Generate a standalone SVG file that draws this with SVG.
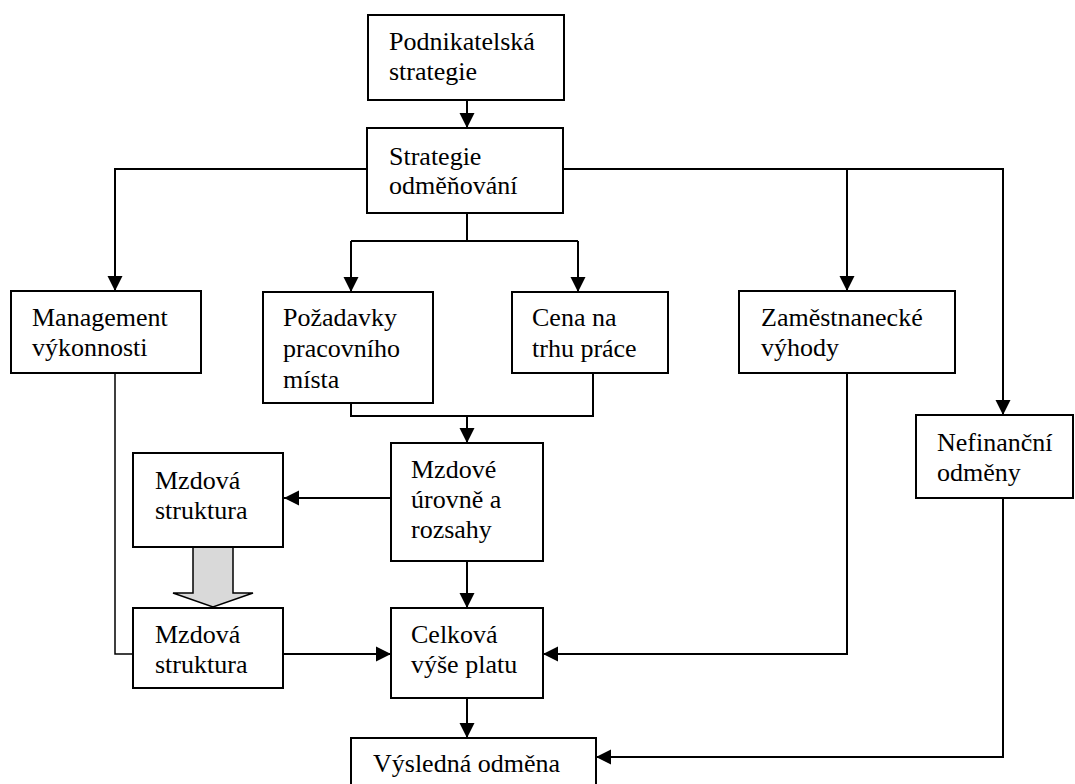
<svg xmlns="http://www.w3.org/2000/svg" width="1075" height="784" viewBox="0 0 1075 784">
<defs>
<marker id="ah" markerUnits="userSpaceOnUse" markerWidth="17" markerHeight="17" refX="15" refY="8" orient="auto">
<path d="M0,0.5 L15,8 L0,15.5 z" fill="#000"/>
</marker>
<style>
.box{fill:#fff;stroke:#000;stroke-width:2}
text{font-family:'Liberation Serif','DejaVu Serif',serif;font-size:26px;fill:#000}
.c{fill:none;stroke:#000;stroke-width:2}
.ca{fill:none;stroke:#000;stroke-width:2;marker-end:url(#ah)}
.thin{fill:none;stroke:#000;stroke-width:1.5}
</style>
</defs>
<rect width="1075" height="784" fill="#fff"/>
<g id="connectors">
<path class="ca" d="M467,86 V128"/>
<path class="ca" d="M367,169 H115 V291"/>
<path class="ca" d="M563,169 H1003 V415"/>
<path class="ca" d="M847,169 V291"/>
<path class="c" d="M467,213 V241"/>
<path class="c" d="M351,241 H578"/>
<path class="ca" d="M351,241 V292"/>
<path class="ca" d="M578,241 V292"/>
<path class="c" d="M351,403 V416 H593 V373"/>
<path class="ca" d="M467,416 V443"/>
<path class="ca" d="M391,498 H284"/>
<path class="ca" d="M467,561 V608"/>
<path class="thin" d="M115,373 V654 H133"/>
<path class="ca" d="M283,654 H391"/>
<path class="ca" d="M847,373 V654 H543"/>
<path class="ca" d="M467,698 V738"/>
<path class="ca" d="M1003,498 V757 H596"/>
<polygon points="193,547 233,547 233,593 253,593 213,607 173,593 193,593" fill="#d9d9d9" stroke="#000" stroke-width="1.5"/>
</g>
<g id="n-podnikatelska">
<rect class="box" x="368" y="15" width="196" height="85"/>
<text font-family="Liberation Serif, serif" x="389" y="50">Podnikatelská</text>
<text font-family="Liberation Serif, serif" x="389" y="80">strategie</text>
</g>
<g id="n-strategie">
<rect class="box" x="367" y="128" width="196" height="85"/>
<text x="389" y="165">Strategie</text>
<text x="389" y="194">odměňování</text>
</g>
<g id="n-management">
<rect class="box" x="11" y="291" width="190" height="82"/>
<text x="32" y="326">Management</text>
<text x="32" y="356">výkonnosti</text>
</g>
<g id="n-pozadavky">
<rect class="box" x="263" y="292" width="170" height="111"/>
<text x="283" y="326">Požadavky</text>
<text x="283" y="357">pracovního</text>
<text x="283" y="388">místa</text>
</g>
<g id="n-cena">
<rect class="box" x="512" y="292" width="156" height="81"/>
<text x="532" y="326">Cena na</text>
<text x="532" y="357">trhu práce</text>
</g>
<g id="n-zamestnanecke">
<rect class="box" x="739" y="291" width="216" height="82"/>
<text x="761" y="326">Zaměstnanecké</text>
<text x="761" y="356">výhody</text>
</g>
<g id="n-nefinancni">
<rect class="box" x="916" y="415" width="157" height="83"/>
<text x="937" y="451">Nefinanční</text>
<text x="937" y="481">odměny</text>
</g>
<g id="n-mzdova-struktura-1">
<rect class="box" x="133" y="453" width="150" height="94"/>
<text x="155" y="489">Mzdová</text>
<text x="155" y="519">struktura</text>
</g>
<g id="n-mzdove-urovne">
<rect class="box" x="391" y="443" width="152" height="118"/>
<text x="411" y="478">Mzdové</text>
<text x="411" y="508">úrovně a</text>
<text x="411" y="538">rozsahy</text>
</g>
<g id="n-mzdova-struktura-2">
<rect class="box" x="133" y="608" width="150" height="80"/>
<text x="155" y="643">Mzdová</text>
<text x="155" y="673">struktura</text>
</g>
<g id="n-celkova">
<rect class="box" x="391" y="608" width="152" height="90"/>
<text x="411" y="643">Celková</text>
<text x="411" y="673">výše platu</text>
</g>
<g id="n-vysledna">
<rect class="box" x="351" y="738" width="245" height="60"/>
<text x="373" y="772">Výsledná odměna</text>
</g>
</svg>
